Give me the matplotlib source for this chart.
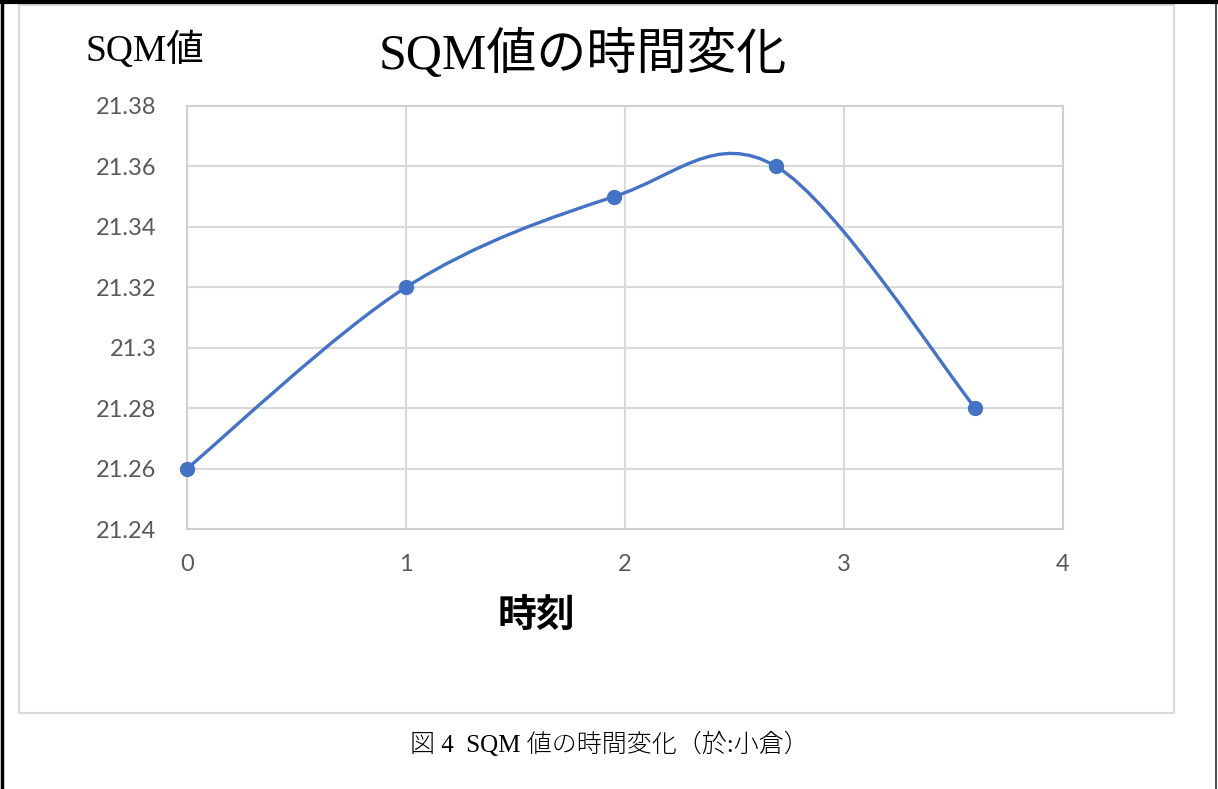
import numpy as np
import matplotlib.pyplot as plt
from matplotlib.path import Path
from matplotlib.patches import PathPatch, Rectangle
from matplotlib.lines import Line2D

# data
times = [0, 1, 1.95, 2.69, 3.6]
sqm = [21.26, 21.32, 21.35, 21.36, 21.28]
x_ticks = [0, 1, 2, 3, 4]
y_ticks = [21.24, 21.26, 21.28, 21.3, 21.32, 21.34, 21.36, 21.38]
y_labels = ['21.24', '21.26', '21.28', '21.3', '21.32', '21.34', '21.36', '21.38']

jp = ['Liberation Serif', 'Noto Sans CJK JP']
tick_font = 'Lato'
blue = '#4472C4'

fig = plt.figure(figsize=(12.18, 7.89), dpi=100)
W, H = 1218, 789

# outer page border and chart frame
fig.add_artist(Line2D([2 / W, 2 / W], [0, 1], color='black', lw=2.5))
fig.add_artist(Line2D([1216 / W, 1216 / W], [0, 1], color='#555555', lw=1.5))
fig.add_artist(Line2D([0, 1], [1 - 1.5 / H, 1 - 1.5 / H], color='black', lw=3))
fig.add_artist(Rectangle((19 / W, 1 - 713 / H), (1174 - 19) / W, (713 - 5) / H,
                         fill=False, ec='#d9d9d9', lw=1.5))

ax = fig.add_axes([187 / W, 1 - 529 / H, (1063 - 187) / W, (529 - 106) / H])

# smoothed line (Catmull-Rom style bezier, like Excel's smoothed scatter)
pts = np.column_stack([times, sqm])
ext = np.vstack([pts[0], pts, pts[-1]])
verts = [tuple(pts[0])]
codes = [Path.MOVETO]
for i in range(len(pts) - 1):
    p0, p1, p2, p3 = ext[i], ext[i + 1], ext[i + 2], ext[i + 3]
    c1 = p1 + (p2 - p0) / 6
    c2 = p2 - (p3 - p1) / 6
    verts += [tuple(c1), tuple(c2), tuple(p2)]
    codes += [Path.CURVE4] * 3
ax.add_patch(PathPatch(Path(verts, codes), fill=False, ec=blue, lw=2.4,
                       capstyle='round', joinstyle='round', zorder=3))
ax.plot(times, sqm, 'o', color=blue, ms=10, zorder=4, clip_on=False)

ax.set_xlim(0, 4)
ax.set_ylim(21.24, 21.38)
ax.set_xticks(x_ticks)
ax.set_yticks(y_ticks)
ax.set_yticklabels(y_labels)
ax.grid(True, color='#d9d9d9', lw=1.5)
ax.set_axisbelow(True)
for s in ax.spines.values():
    s.set_color('#d0d0d0')
    s.set_linewidth(1.5)
ax.tick_params(length=0, colors='#595959', labelsize=17)
ax.tick_params(axis='y', pad=22)
ax.tick_params(axis='x', pad=18)
for lab in ax.get_xticklabels() + ax.get_yticklabels():
    lab.set_family(tick_font)

# titles and labels
fig.text(583 / W, 1 - 55 / H, 'SQM値の時間変化', family=jp, fontsize=36,
         ha='center', va='center')
fig.text(145 / W, 1 - 50 / H, 'SQM値', family=jp, fontsize=27,
         ha='center', va='center')
fig.text(536 / W, 1 - 615 / H, '時刻', family=['Noto Sans CJK JP'], fontsize=28,
         fontweight='bold', ha='center', va='center')
fig.text(609 / W, 1 - 744 / H, '図 4  SQM 値の時間変化（於:小倉）', family=jp,
         fontsize=18, fontweight='light', ha='center', va='center')

fig.savefig('out.png', dpi=100)
